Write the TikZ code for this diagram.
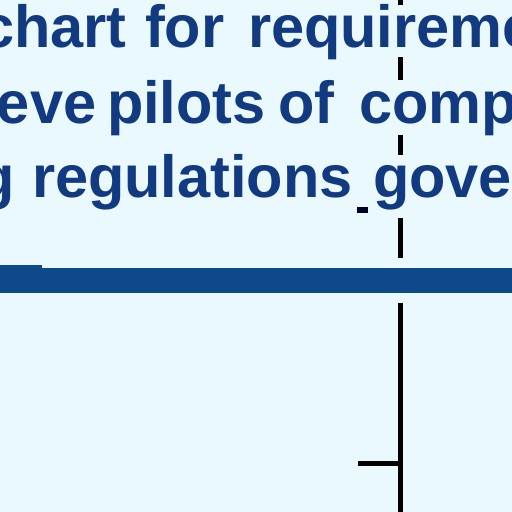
\documentclass[tikz,border=0pt]{standalone}
\usepackage{fontspec}
\setmainfont{Liberation Sans}
\definecolor{bgc}{RGB}{234,249,253}
\definecolor{txtc}{RGB}{18,58,128}
\definecolor{barc}{RGB}{14,74,138}
\begin{document}
\begin{tikzpicture}[x=1pt,y=-1pt,
  word/.style={anchor=base west,inner sep=0pt,outer sep=0pt,text=txtc,
    font=\fontsize{59.5}{70}\selectfont\bfseries},
  rule/.style={fill=black,draw=none}]
\useasboundingbox (0,0) rectangle (512,512);
\fill[bgc] (0,0) rectangle (512,512);
\begin{scope}
\clip (0,0) rectangle (512,512);
% line 1
\node[word] (w1a) at (-19,47.5) {chart};
\node[word] (w1b) at (145,47.5) {for};
\node[word] (w1c) at (248,47.5) {requireme};
% line 2
\node[word] (w2a) at (-3,123) {eve};
\node[word] (w2b) at (107,123) {pilots};
\node[word] (w2c) at (278,123) {of};
\node[word] (w2d) at (359,123) {comp};
% line 3
\node[word] (w3a) at (-21,197) {g};
\node[word] (w3b) at (32,197) {regulations};
\node[word] (w3c) at (373,197) {gove};
% thick bar
\fill[barc] (0,265) rectangle (42,293);
\fill[barc] (42,267.5) rectangle (512,293);
% dashed vertical line (irregular dashes)
\fill[rule] (397.5,0) rectangle (402.5,5);
\fill[rule] (397.5,57) rectangle (402.5,80);
\fill[rule] (397.5,135) rectangle (402.5,155);
\fill[rule] (397.5,218) rectangle (402.5,258);
% small mark
\fill[black!85!blue] (357,207) rectangle (368,213);
% solid vertical line and tick
\coordinate (vtop) at (400,303);
\coordinate (vbot) at (400,512);
\coordinate (tickL) at (358,463.5);
\coordinate (tickR) at (400,463.5);
\draw[line width=5pt,black] (vtop) -- (vbot);
\draw[line width=5pt,black] (tickL) -- (tickR);
\end{scope}
\end{tikzpicture}
\end{document}
